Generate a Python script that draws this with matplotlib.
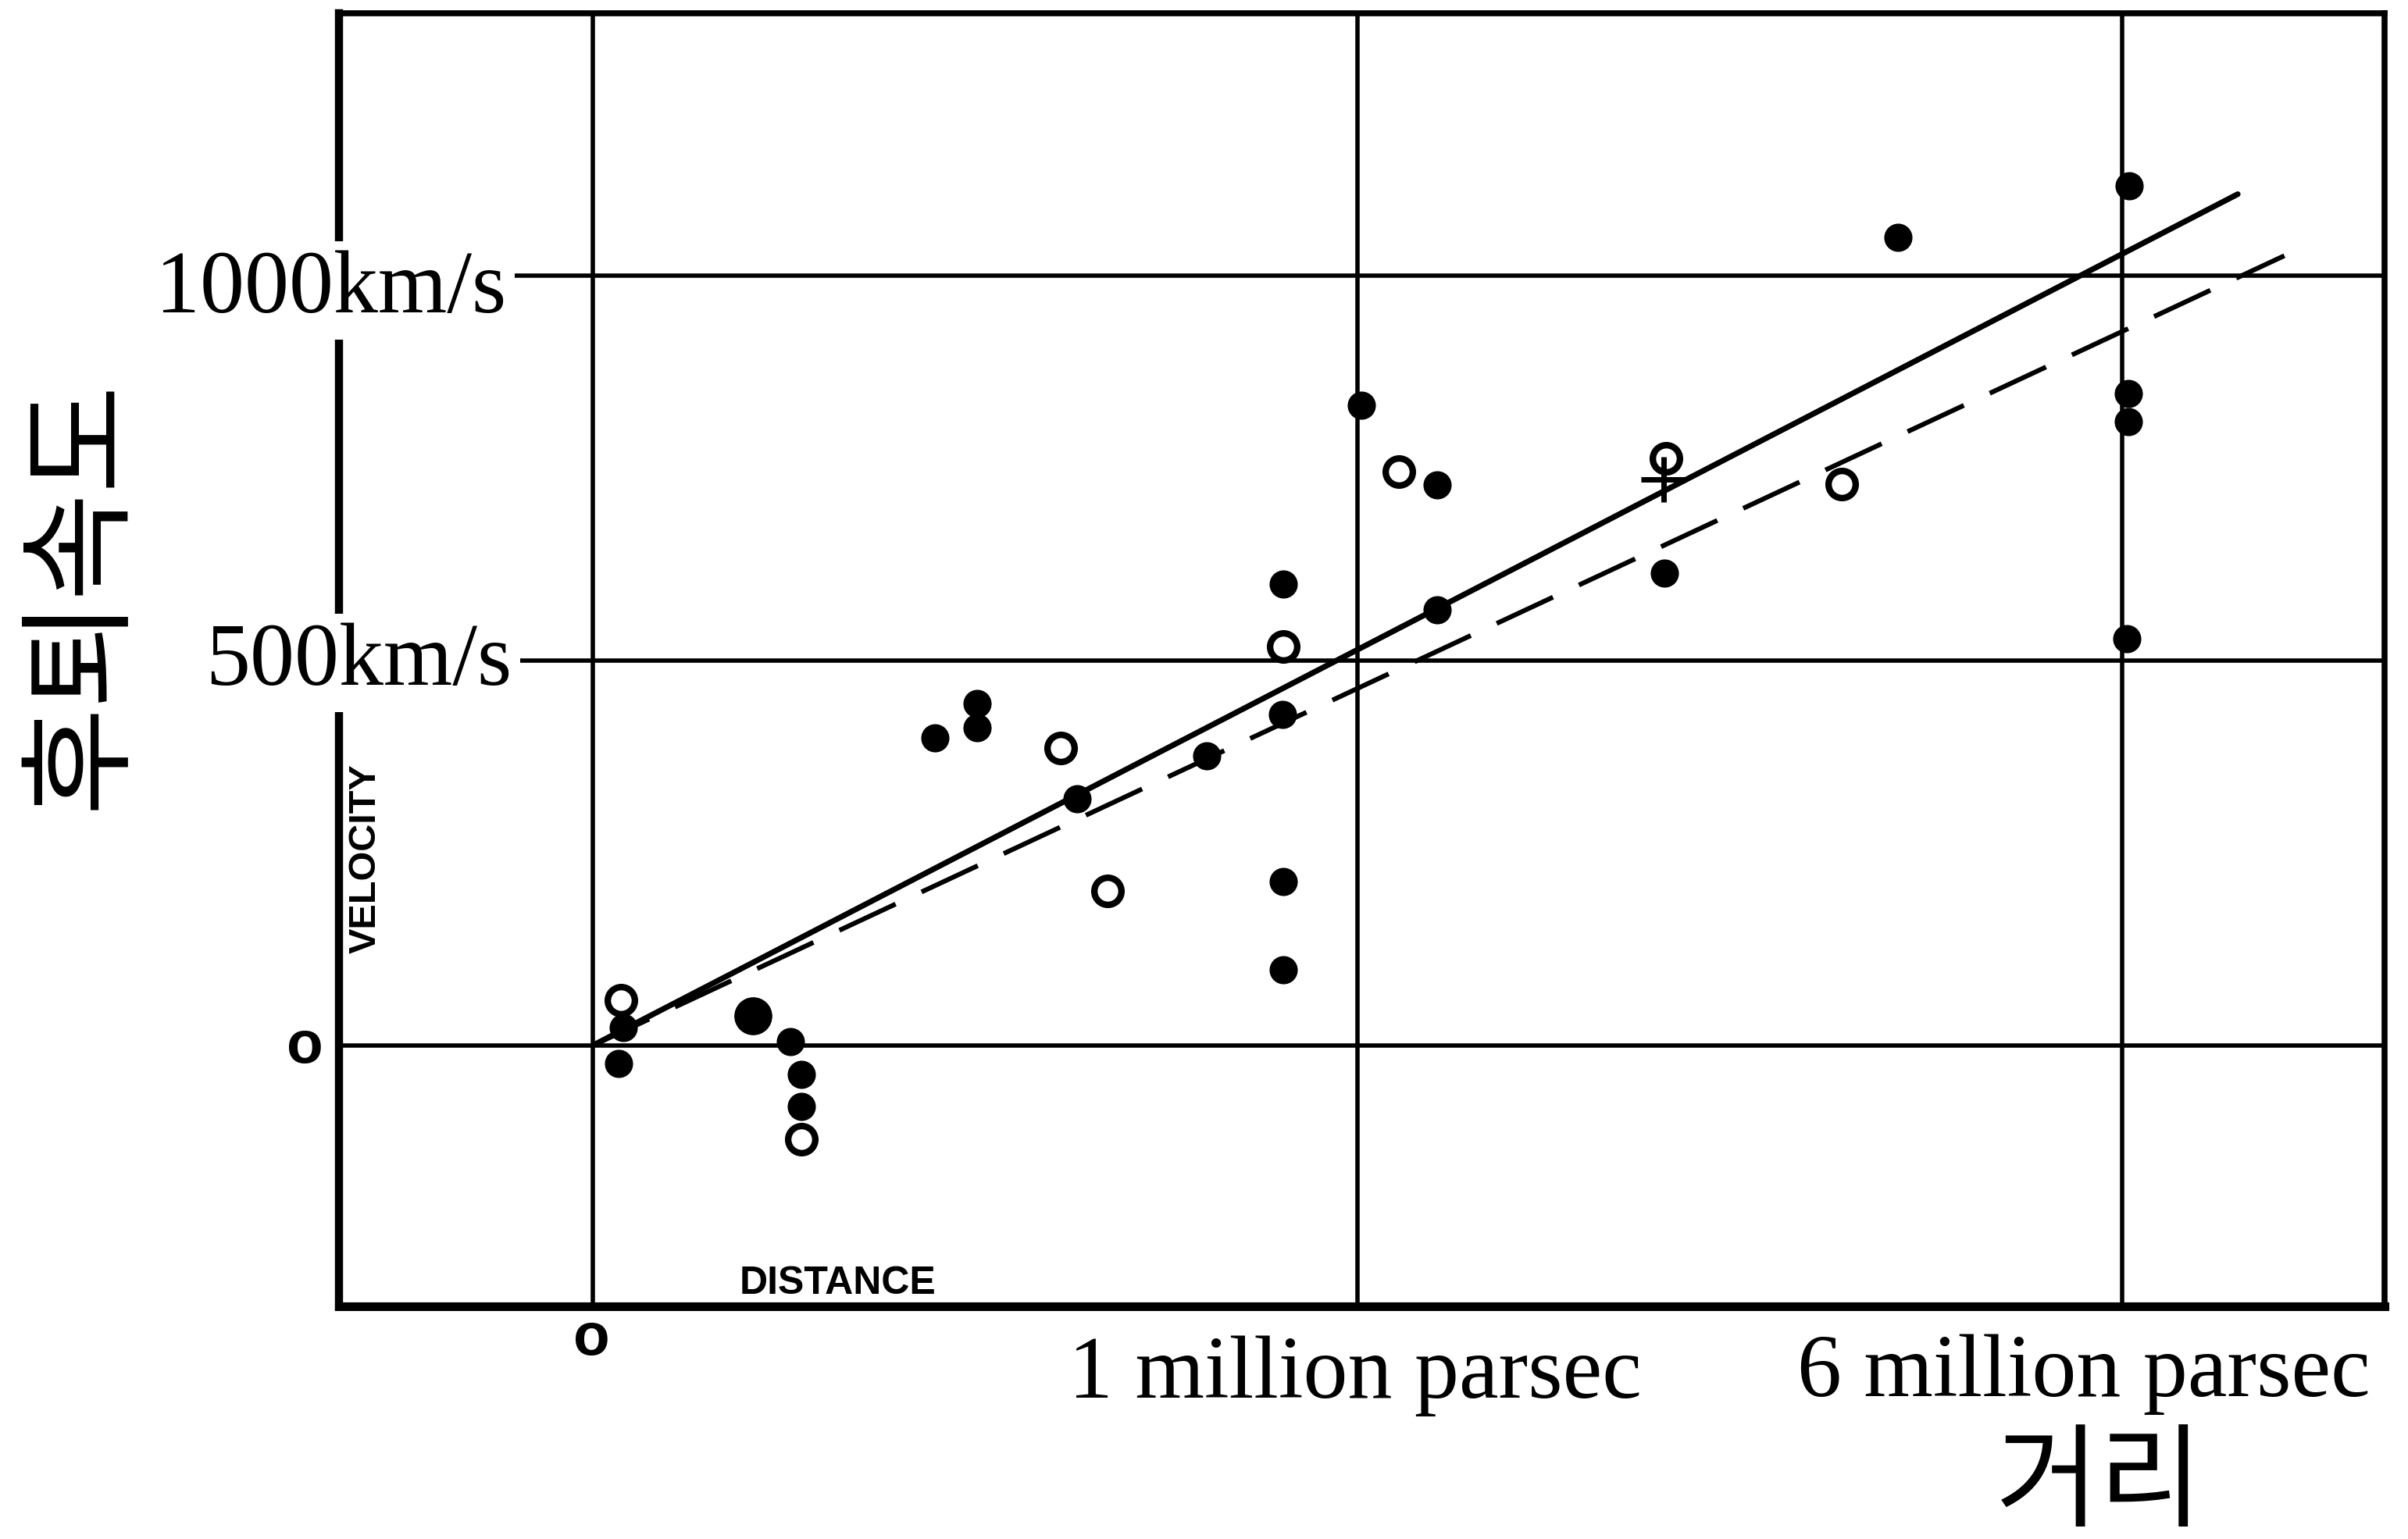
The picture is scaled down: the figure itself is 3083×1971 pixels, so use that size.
import matplotlib
matplotlib.use("Agg")
import matplotlib.pyplot as plt

# ---- data (distance in "units" of the grid, velocity in km/s) ----
filled_dist = [0.034, 0.040, 0.258, 0.273, 0.273, 0.447, 0.502, 0.502, 0.633, 0.803,
               0.903, 0.902, 0.903, 0.903, 1.005, 1.104, 1.104, 1.401, 1.707, 2.009,
               2.008, 2.008, 2.006]
filled_vel = [-23, 23, 5, -38, -79, 400, 444, 413, 320, 376,
              599, 430, 213, 98, 832, 728, 566, 614, 1050, 1117,
              847, 810, 528]
big_dist = [0.209]
big_vel = [38]
open_dist = [0.037, 0.273, 0.612, 0.673, 0.903, 1.054, 1.403, 1.633]
open_vel = [59, -122, 386, 201, 518, 745, 763, 729]
cross_dist = [1.40]
cross_vel = [735]
solid_line_dist = [0.0, 2.151]
solid_line_vel = [0, 1106]
dashed_line_dist = [0.0, 2.212]
dashed_line_vel = [0, 1026]
grid_x = [0, 1, 2]
grid_y = [0, 500, 1000]

W, H = 3083, 1971
fig = plt.figure(figsize=(W / 100, H / 100), dpi=100)
fig.patch.set_facecolor("white")

def fx(px):
    return px / W

def fy(py):
    return 1 - py / H

ax = fig.add_axes([fx(434), fy(1673), fx(3053) - fx(434), fy(17) - fy(1673)])
ax.set_xlim(-0.332, 2.343)
ax.set_ylim(-339, 1341)
ax.set_xticks([])
ax.set_yticks([])
for side, lw in [("left", 7.5), ("bottom", 8.0), ("top", 5.5), ("right", 5.5)]:
    ax.spines[side].set_linewidth(lw)
    ax.spines[side].set_color("black")

for gx in grid_x:
    ax.axvline(gx, color="black", lw=4.0, zorder=1)
for gy in grid_y:
    ax.axhline(gy, color="black", lw=4.0, zorder=1)

ax.plot(solid_line_dist, solid_line_vel, color="black", lw=5.2, solid_capstyle="round", zorder=2)
ax.plot(dashed_line_dist, dashed_line_vel, color="black", lw=4.4,
        linestyle=(0, (13, 6)), zorder=2)

ax.plot(filled_dist, filled_vel, "o", color="black", ms=25, zorder=3)
ax.plot(big_dist, big_vel, "o", color="black", ms=34, zorder=3)
ax.plot(open_dist, open_vel, "o", mfc="white", mec="black", ms=25, mew=6, zorder=4)
ax.plot(cross_dist, cross_vel, "+", color="black", ms=42, mew=5, zorder=5)

serif = "Liberation Serif"
box = dict(facecolor="white", edgecolor="none", pad=8)
fig.text(fx(648), fy(400), "1000km/s", ha="right", va="baseline",
         fontsize=82, family=serif, bbox=box)
fig.text(fx(655), fy(877), "500km/s", ha="right", va="baseline",
         fontsize=82, family=serif, bbox=box)
fig.text(fx(1735), fy(1790), "1 million parsec", ha="center", va="baseline",
         fontsize=82, family=serif)
fig.text(fx(2668), fy(1788), "6 million parsec", ha="center", va="baseline",
         fontsize=82, family=serif)

kr = ["Noto Sans CJK KR", "DejaVu Sans"]
fig.text(fx(103), fy(761), "후퇴속도", rotation=90, ha="center", va="center",
         fontsize=108, family=kr)
fig.text(fx(2688), fy(1944), "거리", ha="center", va="baseline",
         fontsize=104, family=kr)

sans = "Liberation Sans"
fig.text(fx(468), fy(1100), "VELOCITY", rotation=90, ha="center", va="center",
         fontsize=35, family=sans, weight="bold")
fig.text(fx(1073), fy(1644), "DISTANCE", ha="center", va="center",
         fontsize=36, family=sans, weight="bold")
fig.text(fx(390), fy(1341), "o", ha="center", va="center",
         fontsize=55, family=sans, weight="bold")
fig.text(fx(757), fy(1716), "o", ha="center", va="center",
         fontsize=55, family=sans, weight="bold")

fig.savefig("out.png", dpi=100, facecolor="white")
